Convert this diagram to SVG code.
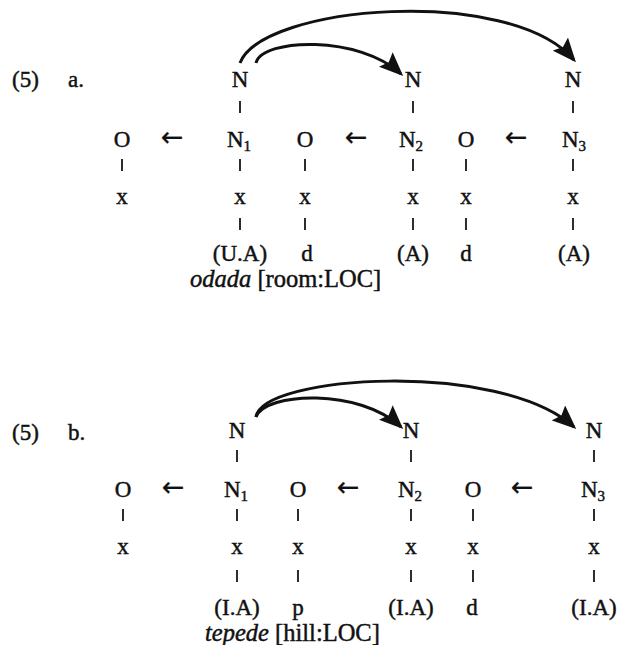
<svg xmlns="http://www.w3.org/2000/svg" width="619" height="645" viewBox="0 0 619 645">
<defs>
<style>
text{font-family:"Liberation Serif","Times New Roman",serif;font-size:23px;fill:#111;stroke:#111;stroke-width:0.45;}
.m{text-anchor:middle;}
.sub{font-size:15px;}
.it{font-style:italic;}
.gl{font-size:24.5px;}
.arr{font-family:"DejaVu Sans",sans-serif;font-size:27px;stroke-width:0.2;}
.tick{stroke:#222;stroke-width:1.9;}
.arc{fill:none;stroke:#111;stroke-width:3;}
</style>
<marker id="ah" viewBox="0 0 24 20" refX="21" refY="10" markerWidth="24" markerHeight="20" markerUnits="userSpaceOnUse" orient="auto">
<path d="M0,0 L24,10 L0,20 L4,10 Z" fill="#111"/>
</marker>
</defs>
<rect width="619" height="645" fill="#fff"/>

<!-- (5) a. -->
<g id="label-a">
<text x="12" y="87">(5)</text>
<text x="68" y="87">a.</text>
</g>
<g id="a-N-top1"><text class="m" x="240" y="87">N</text></g>
<g id="a-N-top2"><text class="m" x="413" y="87">N</text></g>
<g id="a-N-top3"><text class="m" x="573" y="87">N</text></g>
<g id="a-O1"><text class="m" x="122" y="147">O</text><text class="m" x="122" y="204">x</text></g>
<g id="a-N1"><text class="m" x="239" y="147">N<tspan class="sub" dy="4">1</tspan></text><text class="m" x="240" y="204">x</text><text class="m" x="240" y="261">(U.A)</text></g>
<g id="a-O2"><text class="m" x="305" y="147">O</text><text class="m" x="305" y="204">x</text><text class="m" x="307" y="261">d</text></g>
<g id="a-N2"><text class="m" x="411" y="147">N<tspan class="sub" dy="4">2</tspan></text><text class="m" x="413" y="204">x</text><text class="m" x="413" y="261">(A)</text></g>
<g id="a-O3"><text class="m" x="466" y="147">O</text><text class="m" x="466" y="204">x</text><text class="m" x="466" y="261">d</text></g>
<g id="a-N3"><text class="m" x="574" y="147">N<tspan class="sub" dy="4">3</tspan></text><text class="m" x="573" y="204">x</text><text class="m" x="574" y="261">(A)</text></g>
<g id="a-gloss"><text class="gl" x="190" y="287"><tspan class="it">odada</tspan> [room:LOC]</text></g>

<!-- (5) b. -->
<g id="label-b">
<text x="12" y="440">(5)</text>
<text x="68" y="440">b.</text>
</g>
<g id="b-N-top1"><text class="m" x="237" y="438">N</text></g>
<g id="b-N-top2"><text class="m" x="411" y="438">N</text></g>
<g id="b-N-top3"><text class="m" x="594" y="438">N</text></g>
<g id="b-O1"><text class="m" x="123" y="497">O</text><text class="m" x="123" y="554">x</text></g>
<g id="b-N1"><text class="m" x="236" y="497">N<tspan class="sub" dy="4">1</tspan></text><text class="m" x="237" y="554">x</text><text class="m" x="237" y="615">(I.A)</text></g>
<g id="b-O2"><text class="m" x="298" y="497">O</text><text class="m" x="298" y="554">x</text><text class="m" x="298" y="615">p</text></g>
<g id="b-N2"><text class="m" x="410" y="497">N<tspan class="sub" dy="4">2</tspan></text><text class="m" x="411" y="554">x</text><text class="m" x="411" y="615">(I.A)</text></g>
<g id="b-O3"><text class="m" x="473" y="497">O</text><text class="m" x="473" y="554">x</text><text class="m" x="472" y="615">d</text></g>
<g id="b-N3"><text class="m" x="593" y="497">N<tspan class="sub" dy="4">3</tspan></text><text class="m" x="594" y="554">x</text><text class="m" x="594" y="615">(I.A)</text></g>
<g id="b-gloss"><text class="gl" x="205" y="641"><tspan class="it">tepede</tspan> [hill:LOC]</text></g>

<g id="connectors">
<!-- arrows as printed -->
<text class="m arr" x="172" y="146">←</text>
<text class="m arr" x="356" y="146">←</text>
<text class="m arr" x="516" y="146">←</text>
<text class="m arr" x="173" y="496">←</text>
<text class="m arr" x="348" y="496">←</text>
<text class="m arr" x="522" y="496">←</text>
<!-- ticks a -->
<line class="tick" x1="240" y1="101" x2="240" y2="113"/>
<line class="tick" x1="413" y1="101" x2="413" y2="113"/>
<line class="tick" x1="573" y1="101" x2="573" y2="113"/>
<line class="tick" x1="122" y1="159" x2="122" y2="171"/>
<line class="tick" x1="240" y1="159" x2="240" y2="171"/>
<line class="tick" x1="305" y1="159" x2="305" y2="171"/>
<line class="tick" x1="413" y1="159" x2="413" y2="171"/>
<line class="tick" x1="466" y1="159" x2="466" y2="171"/>
<line class="tick" x1="573" y1="159" x2="573" y2="171"/>
<line class="tick" x1="240" y1="218" x2="240" y2="230"/>
<line class="tick" x1="305" y1="218" x2="305" y2="230"/>
<line class="tick" x1="413" y1="218" x2="413" y2="230"/>
<line class="tick" x1="466" y1="218" x2="466" y2="230"/>
<line class="tick" x1="573" y1="218" x2="573" y2="230"/>
<!-- ticks b -->
<line class="tick" x1="237" y1="450" x2="237" y2="462"/>
<line class="tick" x1="411" y1="450" x2="411" y2="462"/>
<line class="tick" x1="594" y1="450" x2="594" y2="462"/>
<line class="tick" x1="123" y1="509" x2="123" y2="521"/>
<line class="tick" x1="237" y1="509" x2="237" y2="521"/>
<line class="tick" x1="298" y1="509" x2="298" y2="521"/>
<line class="tick" x1="411" y1="509" x2="411" y2="521"/>
<line class="tick" x1="473" y1="509" x2="473" y2="521"/>
<line class="tick" x1="594" y1="509" x2="594" y2="521"/>
<line class="tick" x1="237" y1="570" x2="237" y2="582"/>
<line class="tick" x1="298" y1="570" x2="298" y2="582"/>
<line class="tick" x1="411" y1="570" x2="411" y2="582"/>
<line class="tick" x1="473" y1="570" x2="473" y2="582"/>
<line class="tick" x1="594" y1="570" x2="594" y2="582"/>
<!-- curved arrows -->
<path class="arc" d="M240,63 C262,5 510,-15 574,60" marker-end="url(#ah)"/>
<path class="arc" d="M256,63 C262,38 360,35 401,74" marker-end="url(#ah)"/>
<path class="arc" d="M256,417 C262,375 500,360 574,427" marker-end="url(#ah)"/>
<path class="arc" d="M256,417 C265,392 360,388 401,427" marker-end="url(#ah)"/>
</g>
</svg>
